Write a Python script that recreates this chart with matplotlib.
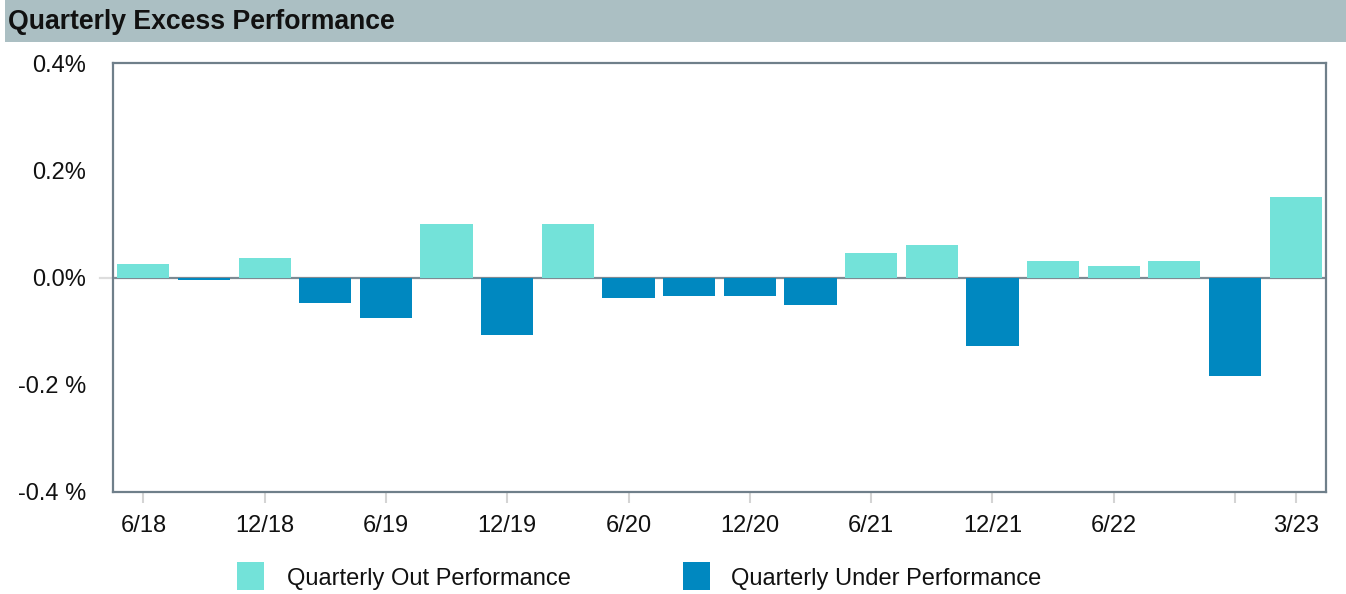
import matplotlib
matplotlib.use("Agg")
import matplotlib.pyplot as plt
from matplotlib.patches import Rectangle
import numpy as np

plt.rcParams["font.family"] = ["Liberation Sans", "DejaVu Sans"]

quarters = ["6/18", "9/18", "12/18", "3/19", "6/19", "9/19", "12/19", "3/20",
            "6/20", "9/20", "12/20", "3/21", "6/21", "9/21", "12/21", "3/22",
            "6/22", "9/22", "12/22", "3/23"]
excess = [0.026, -0.004, 0.037, -0.047, -0.075, 0.099, -0.108, 0.099,
          -0.039, -0.034, -0.034, -0.052, 0.045, 0.060, -0.127, 0.030,
          0.022, 0.030, -0.183, 0.151]
tick_idx = [0, 2, 4, 6, 8, 10, 12, 14, 16, 18, 19]
tick_text = ["6/18", "12/18", "6/19", "12/19", "6/20", "12/20", "6/21",
             "12/21", "6/22", "", "3/23"]
y_ticks = [-0.4, -0.2, 0.0, 0.2, 0.4]
y_text = ["-0.4 %", "-0.2 %", "0.0%", "0.2%", "0.4%"]

OUT_C = "#73e2d9"
UNDER_C = "#0088c0"
FRAME_C = "#6f7f8a"

W, H = 1346, 594
fig = plt.figure(figsize=(W / 100, H / 100), dpi=100)

# header band
fig.add_artist(Rectangle((5 / W, 1 - 42 / H), 1, 42 / H, transform=fig.transFigure,
                         facecolor="#abbfc3", edgecolor="none"))
fig.text(8 / W, 1 - 22 / H, "Quarterly Excess Performance", fontsize=19.2,
         fontweight="bold", va="center", ha="left", color="#111111")

ax = fig.add_axes([113 / W, 1 - 492 / H, (1326 - 113) / W, (492 - 63) / H])
x = np.arange(len(quarters))
vals = np.array(excess)
colors = [OUT_C if v >= 0 else UNDER_C for v in vals]
ax.axhline(0, color="#7d8a93", lw=1.6, zorder=1)
ax.axhline(0, xmin=-0.011, xmax=0, color="#dddddd", lw=1.6, clip_on=False)
ax.bar(x, vals, width=0.86, color=colors, zorder=2)

ax.set_xlim(-0.5, len(quarters) - 0.5)
ax.set_ylim(-0.4, 0.4)
ax.set_xticks(tick_idx)
ax.set_xticklabels(tick_text)
ax.set_yticks(y_ticks)
ax.set_yticklabels(y_text)
ax.tick_params(axis="x", length=8, width=1.5, color="#d4d4d4", pad=8.5,
               labelsize=17, labelcolor="#111111")
ax.tick_params(axis="y", length=0, pad=19.5, labelsize=17, labelcolor="#111111")
for s in ax.spines.values():
    s.set_color(FRAME_C)
    s.set_linewidth(1.6)

# legend
for lx, tx, col, label in [(237, 287, OUT_C, "Quarterly Out Performance"),
                           (683, 731, UNDER_C, "Quarterly Under Performance")]:
    fig.add_artist(Rectangle((lx / W, 1 - 590 / H), 27 / W, 28 / H,
                             transform=fig.transFigure, facecolor=col,
                             edgecolor="none"))
    fig.text(tx / W, 1 - 579 / H, label, fontsize=17, va="center",
             ha="left", color="#111111")

fig.savefig("out.png", dpi=100)
